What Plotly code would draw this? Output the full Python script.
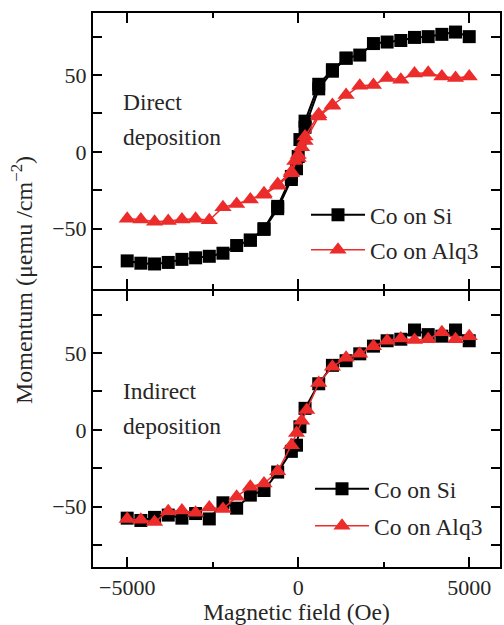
import plotly.graph_objects as go
from plotly.subplots import make_subplots

# Direct deposition, Co on Si (field sweep) and its return sweep near zero field
si_direct_x = [-5000, -4600, -4200, -3800, -3400, -3000, -2600, -2200, -1800, -1400, -1000, -600, -200, -50,
               50, 200, 600, 1000, 1400, 1800, 2200, 2600, 3000, 3400, 3800, 4200, 4600, 5000]
si_direct_y = [-71, -72.5, -73, -72, -70, -69, -68, -66, -61, -57.5, -50, -35.5, -16, -11,
               8, 20, 44, 53.5, 61, 63, 70.5, 71.5, 72.5, 74.5, 75, 76.5, 78, 75]
si_direct_ret_x = [1400, 1000, 600, 200, 0, -200, -600, -1000, -1400]
si_direct_ret_y = [61, 52.5, 41, 16, -3, -18, -37, -50.5, -57.5]

# Direct deposition, Co on Alq3
alq_direct_x = [-5000, -4600, -4200, -3800, -3400, -3000, -2600, -2200, -1800, -1400, -1000, -600, -200, -100,
                0, 100, 200, 600, 1000, 1400, 1800, 2200, 2600, 3000, 3400, 3800, 4200, 4600, 5000]
alq_direct_y = [-43.5, -44, -45.5, -45, -44, -43.5, -44.5, -36, -34, -31, -27, -21, -13, -6,
                -2, 3, 10, 24.5, 30.5, 37, 43, 43.5, 48, 47, 51, 51.5, 49, 48, 49]
alq_direct_ret_x = [1000, 600, 200, 0, -200, -600, -1000]
alq_direct_ret_y = [30, 23, 7, -4, -14, -22, -28]

# Indirect deposition, Co on Si
si_indirect_x = [-5000, -4600, -4200, -3800, -3400, -3000, -2600, -2200, -1800, -1400, -1000, -600, -200, -50,
                 50, 200, 600, 1000, 1400, 1800, 2200, 2600, 3000, 3400, 3800, 4200, 4600, 5000]
si_indirect_y = [-57.5, -59, -57, -55.5, -57.5, -54.5, -58, -47.5, -51, -42.5, -39.5, -27.5, -14, -10,
                 2, 14, 30, 42, 45, 49.5, 54.5, 58, 59, 65, 62, 61, 65, 58]

# Indirect deposition, Co on Alq3
alq_indirect_x = [-5000, -4600, -4200, -3800, -3400, -3000, -2600, -2200, -1800, -1400, -1000, -600, -200, -50,
                  100, 250, 600, 1000, 1400, 1800, 2200, 2600, 3000, 3400, 3800, 4200, 4600, 5000]
alq_indirect_y = [-58, -58.5, -60, -53, -52.5, -54, -50.5, -51.5, -43.5, -37, -35, -27, -10, -2,
                  6, 13, 30.5, 41, 47, 49.5, 54.5, 58, 59.5, 58.5, 59, 63.5, 59, 61]

x_ticks = [-5000, 0, 5000]
x_tick_text = ["\u22125000", "0", "5000"]
x_minor_ticks = [-2500, 2500]
y_ticks = [-50, 0, 50]
y_tick_text = ["\u221250", "0", "50"]
y_minor_ticks = [-75, -25, 25, 75]

BLACK = "#000000"
RED = "#ec2b2b"
TEXT = "#262626"
FONT = "Liberation Serif"
FS_TICK = 22
FS = 23.5

fig = make_subplots(rows=2, cols=1, shared_xaxes=True, vertical_spacing=0)


def add_series(x, y, color, symbol, size, width, name, legend, row, show=True):
    fig.add_trace(go.Scatter(
        x=x, y=y, mode="lines+markers", name=name,
        line=dict(color=color, width=width),
        marker=dict(symbol=symbol, size=size, color=color),
        showlegend=show, legend=legend,
    ), row=row, col=1)


add_series(si_direct_x, si_direct_y, BLACK, "square", 13, 2, "Co on Si", "legend", 1)
add_series(si_direct_ret_x, si_direct_ret_y, BLACK, "square", 13, 2, "Co on Si", "legend", 1, show=False)
add_series(alq_direct_ret_x, alq_direct_ret_y, RED, "triangle-up", 15, 1.5, "Co on Alq3", "legend2", 1, show=False)
add_series(alq_direct_x, alq_direct_y, RED, "triangle-up", 15, 1.5, "Co on Alq3", "legend2", 1)
add_series(si_indirect_x, si_indirect_y, BLACK, "square", 13, 2, "Co on Si", "legend3", 2)
add_series(alq_indirect_x, alq_indirect_y, RED, "triangle-up", 15, 1.5, "Co on Alq3", "legend4", 2)

axis_common = dict(
    showline=True, linecolor=BLACK, linewidth=2, mirror="allticks",
    ticks="inside", tickwidth=2, tickcolor=BLACK, showgrid=False, zeroline=False,
    tickfont=dict(family=FONT, size=FS_TICK, color=TEXT),
)

fig.update_xaxes(
    range=[-6000, 5900], tickvals=x_ticks, ticktext=x_tick_text, ticklen=10,
    minor=dict(tickvals=x_minor_ticks, ticks="inside", ticklen=5, tickwidth=2, tickcolor=BLACK),
    **axis_common,
)
fig.update_xaxes(showticklabels=False, row=1, col=1)
fig.update_xaxes(
    title=dict(text="Magnetic field (Oe)", font=dict(family=FONT, size=FS, color=TEXT), standoff=6),
    row=2, col=1,
)
fig.update_yaxes(
    range=[-89.3, 90.4], tickvals=y_ticks, ticktext=y_tick_text, ticklen=9,
    minor=dict(tickvals=y_minor_ticks, ticks="inside", ticklen=9, tickwidth=2, tickcolor=BLACK),
    **axis_common,
)

L, R, T, B = 93, 4, 13, 58
W, H = 504, 625
pw, ph = W - L - R, H - T - B


def px_x(px):
    return (px - L) / pw


def px_y(py):
    return (H - B - py) / ph


# the two panels meet at y = 290 px; their frame lines share that edge
fig.update_yaxes(domain=[px_y(289), 1.0], row=1, col=1)
fig.update_yaxes(domain=[0.0, px_y(291)], row=2, col=1)

legend_common = dict(
    xanchor="left", yanchor="middle", bgcolor="rgba(0,0,0,0)", borderwidth=0,
    font=dict(family=FONT, size=FS, color=TEXT), itemwidth=54,
)

fig.update_layout(
    width=W, height=H,
    margin=dict(l=L, r=R, t=T, b=B, autoexpand=False),
    paper_bgcolor="white", plot_bgcolor="white",
    legend=dict(x=px_x(306), y=px_y(215), **legend_common),
    legend2=dict(x=px_x(306), y=px_y(250), **legend_common),
    legend3=dict(x=px_x(310), y=px_y(489), **legend_common),
    legend4=dict(x=px_x(310), y=px_y(526), **legend_common),
)

# y-axis title shared by both panels
fig.add_annotation(
    text="Momentum (\u03bcemu /cm<sup>\u22122</sup>)", xref="paper", yref="paper",
    x=px_x(22), y=px_y(280), textangle=-90, showarrow=False,
    xanchor="center", yanchor="middle", font=dict(family=FONT, size=24, color=TEXT),
)

panel_labels = [("Direct", 102), ("deposition", 137), ("Indirect", 391), ("deposition", 426)]
for label, ypx in panel_labels:
    fig.add_annotation(
        text=label, xref="paper", yref="paper", x=px_x(121), y=px_y(ypx),
        showarrow=False, xanchor="left", yanchor="middle",
        font=dict(family=FONT, size=FS, color=TEXT),
    )

fig.write_html("out.html")
